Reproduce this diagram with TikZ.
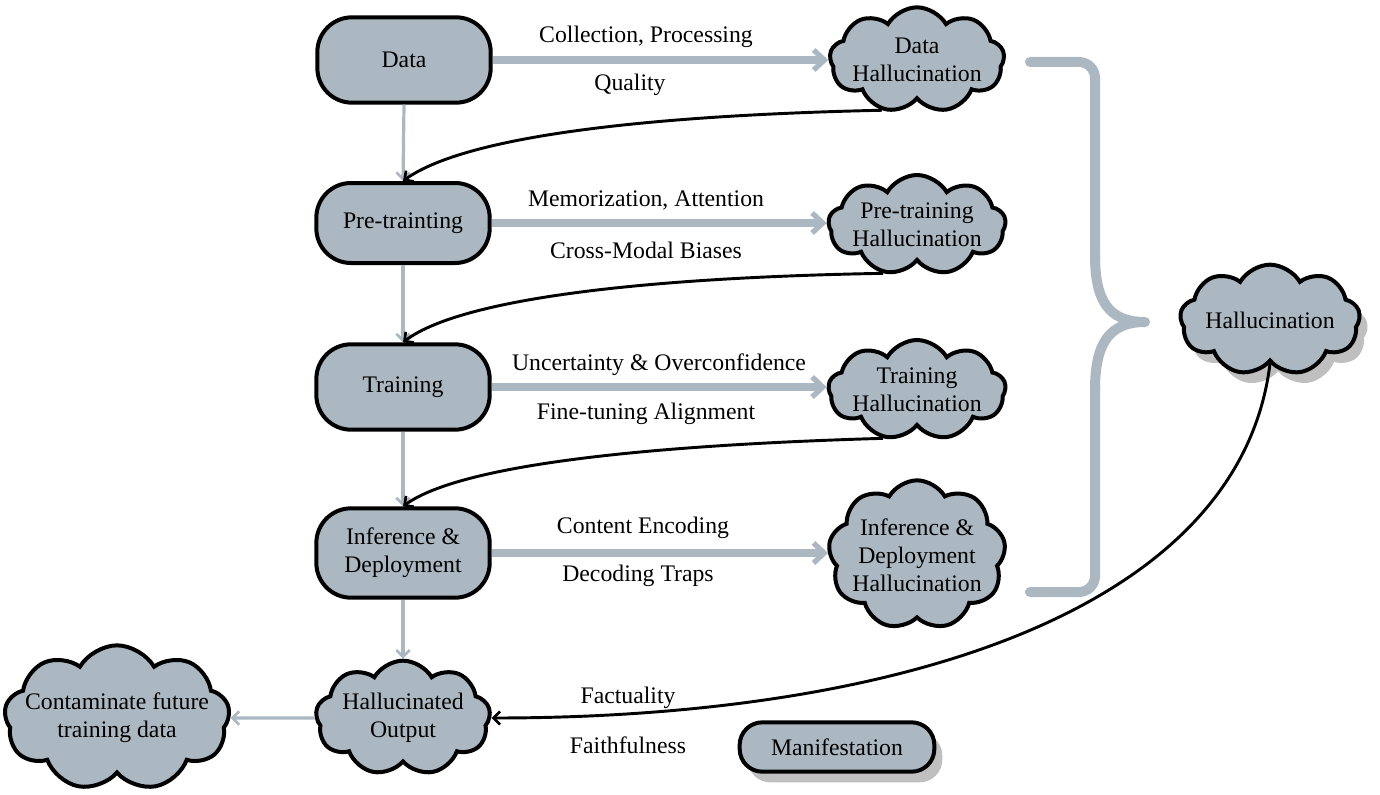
\documentclass[tikz,border=0pt]{standalone}
\usepackage{fontspec}
\setmainfont{Liberation Serif}
\usetikzlibrary{shapes.symbols,arrows.meta,shadows,calc}
\definecolor{cfill}{RGB}{171,184,193}
\definecolor{cgray}{RGB}{171,184,193}
\begin{document}
\begin{tikzpicture}[x=0.75pt,y=-0.75pt,
  font=\fontsize{17.8}{21}\selectfont,
  box/.style={draw,line width=3pt,fill=cfill,rounded corners=26pt,minimum width=130pt,minimum height=64pt,align=center,inner sep=2pt},
  cloudn/.style={cloud,draw,line width=3pt,fill=cfill,cloud puffs=9,cloud puff arc=120,cloud ignores aspect,inner sep=0pt,
    label={[align=center,inner sep=0pt]center:#1}},
  shad/.style={drop shadow={shadow xshift=6pt,shadow yshift=-8pt,opacity=0.25,fill=black}},
  lab/.style={inner sep=1pt},
  garrow/.style={draw=cgray,line width=6pt,-{Straight Barb[length=8pt,width=15pt,line width=4pt]}},
  gthin/.style={draw=cgray,line width=2.4pt,-{Straight Barb[length=5pt,width=10pt,line width=2pt]}},
  barrow/.style={draw=black,line width=2.2pt,-{Straight Barb[length=5pt,width=10pt,line width=2pt]}},
  bracepath/.style={draw=cgray,line width=7.5pt,line cap=round,line join=round}
]
\useasboundingbox (0,0) rectangle (1380,795);

% left column
\node[box] (data) at (404,60) {Data};
\node[box,minimum height=60pt] (pre) at (403,223) {Pre-trainting};
\node[box] (train) at (403,387) {Training};
\node[box,minimum height=67pt] (inf) at (403,553) {Inference \&\\Deployment};
\node[cloudn={Hallucinated\\Output},minimum width=131pt,minimum height=86pt] (out) at (403,718) {};
\node[cloudn={Contaminate future\\training data},minimum width=169pt,minimum height=109pt] (cont) at (117,718) {};

% right column clouds
\node[cloudn={Data\\Hallucination},minimum width=131pt,minimum height=79pt] (dh) at (917,60) {};
\node[cloudn={Pre-training\\Hallucination},minimum width=133pt,minimum height=75pt] (ph) at (917,225) {};
\node[cloudn={Training\\Hallucination},minimum width=133pt,minimum height=75pt] (th) at (917,390) {};
\node[cloudn={Inference \&\\Deployment\\Hallucination},minimum width=133pt,minimum height=112pt] (ih) at (917,555) {};
\node[cloudn={Hallucination},shad,minimum width=135pt,minimum height=83pt] (hal) at (1270,320) {};
\node[box,shad,minimum width=146pt,minimum height=37pt,rounded corners=17pt] (man) at (837,747) {Manifestation};

% labels
\node[lab] (l1) at (646,37) {Collection, Processing};
\node[lab] (l2) at (630,85) {Quality};
\node[lab] (l3) at (646,200) {Memorization, Attention};
\node[lab] (l4) at (646,250) {Cross-Modal Biases};
\node[lab] (l5) at (659,365) {Uncertainty \& Overconfidence};
\node[lab] (l6) at (646,414) {Fine-tuning Alignment};
\node[lab] (l7) at (643,528) {Content Encoding};
\node[lab] (l8) at (638,576) {Decoding Traps};
\node[lab] (l9) at (628,698) {Factuality};
\node[lab] (l10) at (628,745) {Faithfulness};

% thick gray arrows
\draw[garrow] (data.east) -- (dh.west |- data.east);
\draw[garrow] (pre.east) -- (ph.west |- pre.east);
\draw[garrow] (train.east) -- (th.west |- train.east);
\draw[garrow] (inf.east) -- (ih.west |- inf.east);

% thin gray arrows
\draw[gthin] (data.south) -- (pre.north);
\draw[gthin] (pre.south) -- (train.north);
\draw[gthin] (train.south) -- (inf.north);
\draw[gthin] (inf.south) -- (out.north);
\draw[gthin] (out.west) -- (cont.east);

% black feedback curves
\draw[barrow] (dh.235) .. controls (620,116) and (460,140) .. (pre.north);
\draw[barrow] (ph.235) .. controls (620,278) and (456,302) .. (train.north);
\draw[barrow] (th.235) .. controls (620,446) and (456,468) .. (inf.north);
\draw[barrow] (hal.south) .. controls (1240,610) and (900,718) .. (out.east);

% brace
\draw[bracepath,rounded corners=12pt] (1030,62) -- (1095,62) -- (1095,262);
\draw[bracepath] (1095,255) .. controls (1095,300) and (1108,322) .. (1145,322)
  .. controls (1108,322) and (1095,345) .. (1095,390);
\draw[bracepath,rounded corners=12pt] (1095,385) -- (1095,592) -- (1030,592);
\end{tikzpicture}
\end{document}
